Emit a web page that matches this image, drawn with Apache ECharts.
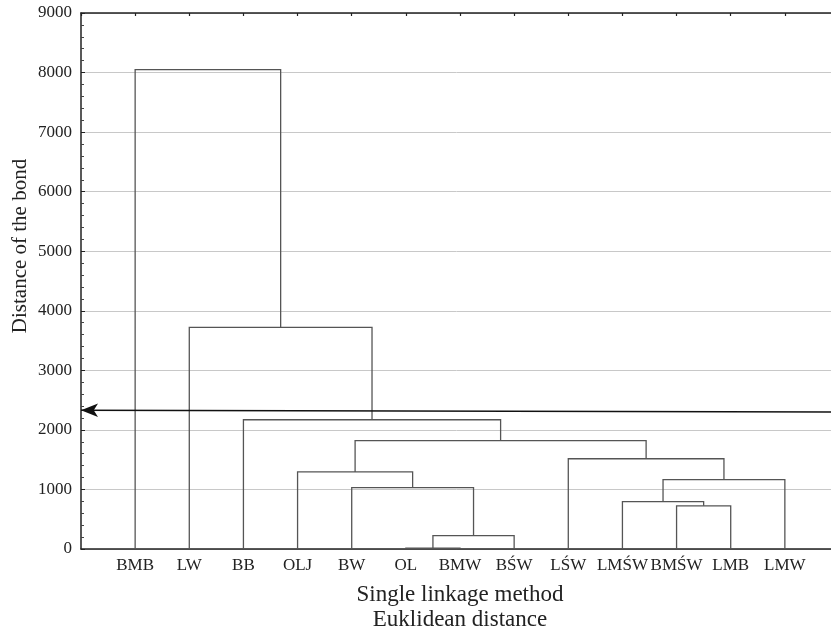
<!DOCTYPE html>
<html>
<head>
<meta charset="utf-8">
<script src="https://cdn.jsdelivr.net/npm/echarts@6/dist/echarts.min.js"></script>
<style>html,body{margin:0;padding:0;background:#fff}#c{width:831px;height:631px}</style>
</head>
<body>
<div id="c"></div>
<script>
// Leaves in dendrogram order
const leaves = ['BMB','LW','BB','OLJ','BW','OL','BMW','BŚW','LŚW','LMŚW','BMŚW','LMB','LMW'];
// Merges: [child A, child B, linkage distance]; node ids >= 13 are earlier merges
const mergeA = [5, 13, 4, 3, 10, 9, 18, 8, 16, 2, 1, 0];
const mergeB = [6, 7, 14, 15, 11, 17, 12, 19, 20, 21, 22, 23];
const mergeH = [15, 225, 1030, 1295, 725, 795, 1165, 1515, 1820, 2170, 3720, 8050];
// Cut-off arrow (distance at right end, at left end)
const arrowH = [2300, 2330];
const yTicks = [0,1000,2000,3000,4000,5000,6000,7000,8000,9000];

const nodeX = leaves.map((_, i) => i + 1);
const nodeH = leaves.map(() => 0);
const segs = [];
for (let k = 0; k < mergeH.length; k++) {
  const a = mergeA[k], b = mergeB[k], h = mergeH[k];
  segs.push({coords: [[nodeX[a], nodeH[a]], [nodeX[a], h], [nodeX[b], h], [nodeX[b], nodeH[b]]]});
  nodeX.push((nodeX[a] + nodeX[b]) / 2);
  nodeH.push(h);
}

const font = '"Liberation Serif", "Times New Roman", serif';
const chart = echarts.init(document.getElementById('c'), null, {renderer: 'canvas'});
chart.setOption({
  animation: false,
  backgroundColor: '#fff',
  grid: {left: 81, right: -8, top: 13, bottom: 82, containLabel: false, outerBoundsMode: 'none'},
  xAxis: [{
    type: 'value', min: 0, max: 14, interval: 1, position: 'bottom',
    axisLine: {show: true, lineStyle: {color: '#222', width: 1.5}},
    axisTick: {show: false},
    splitLine: {show: false},
    axisLabel: {
      fontFamily: font, fontSize: 17, color: '#222', margin: 8,
      formatter: v => (v >= 1 && v <= leaves.length) ? leaves[v - 1] : ''
    },
    name: 'Single linkage method\nEuklidean distance',
    nameLocation: 'middle', nameGap: 33,
    nameTextStyle: {fontFamily: font, fontSize: 23, color: '#222', lineHeight: 25}
  }, {
    type: 'value', min: 0, max: 14, interval: 1, position: 'top',
    axisLine: {show: true, lineStyle: {color: '#222', width: 1.5}},
    axisTick: {show: true, inside: true, length: 3, lineStyle: {color: '#222', width: 1.2}},
    axisLabel: {show: false}, splitLine: {show: false}
  }],
  yAxis: {
    type: 'value', min: 0, max: 9000, interval: 1000,
    axisLine: {show: true, lineStyle: {color: '#222', width: 1.5}},
    axisTick: {show: true, inside: true, length: 4, lineStyle: {color: '#222'}},
    minorTick: {show: true, splitNumber: 5, length: 3, lineStyle: {color: '#444'}},
    splitLine: {show: true, lineStyle: {color: '#c8c8c8', width: 1}},
    axisLabel: {fontFamily: font, fontSize: 17, color: '#222', margin: 9,
      formatter: v => yTicks.indexOf(v) >= 0 ? String(v) : ''}
  },
  graphic: [{
    type: 'text', x: 20, y: 246, rotation: Math.PI / 2,
    style: {text: 'Distance of the bond', font: '21px ' + font, fill: '#222',
      textAlign: 'center', textVerticalAlign: 'middle'}
  }],
  series: [{
    type: 'lines', coordinateSystem: 'cartesian2d', polyline: true,
    data: segs,
    lineStyle: {color: '#555', width: 1.3, opacity: 1},
    silent: true, z: 3
  }, {
    type: 'line', data: [], silent: true, z: 5,
    markLine: {
      silent: true, symbol: ['none', 'arrow'], symbolSize: [10, 17],
      label: {show: false},
      lineStyle: {color: '#111', width: 1.5, type: 'solid'},
      data: [[{coord: [14, arrowH[0]]}, {coord: [0, arrowH[1]]}]]
    }
  }]
});
</script>
</body>
</html>
